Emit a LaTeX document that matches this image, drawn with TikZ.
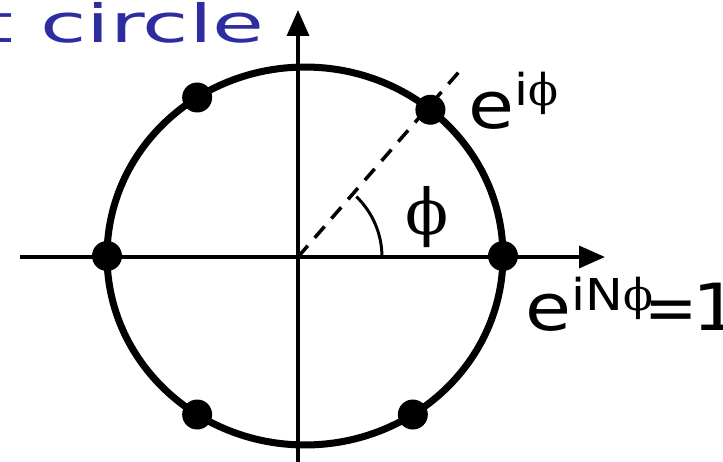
\documentclass[tikz,border=0pt]{standalone}
\usepackage{fontspec}
\usepackage{graphicx}
\usepackage{xcolor}
\usepackage{tikz}
\usetikzlibrary{arrows.meta,positioning,calc}
\newfontfamily\labelfont[FakeStretch=1.15]{DejaVu Sans}
\newfontfamily\titlefont[FakeStretch=1.6]{DejaVu Sans}
\newfontfamily\phifont{DejaVu Serif}
\definecolor{titleblue}{RGB}{45,45,160}

\begin{document}
\begin{tikzpicture}[
x=0.02cm, y=0.02cm,
axis/.style={line width=2pt, -{Triangle[length=5.2mm, width=4.4mm]}},
ring/.style={line width=4pt},
root/.style={circle, fill, inner sep=0pt, minimum size=6mm},
lbl/.style={inner sep=0pt, anchor=base west, font=\labelfont\fontsize{37}{40}\selectfont}
]
\useasboundingbox (0,0) rectangle (723,461);
\coordinate (O) at (298,204);
\coordinate (C) at (305,205);
\coordinate (xl) at (20,204);
\coordinate (xr) at (605,204);
\coordinate (yb) at (298,-10);
\coordinate (yt) at (298,451);

\draw[axis] (xl) -- (xr);
\draw[axis] (yb) -- (yt);
\draw[ring] (C) ellipse [x radius=3.96cm, y radius=3.78cm];

% roots on the circle
\foreach \t [count=\k] in {0,50.7,123,180,237,303}
  \node[root] (r\k) at ($(C)+({198*cos(\t)},{189*sin(\t)})$) {};

\coordinate (ray) at ($(O)+(49:4.9cm)$);
\draw[line width=2pt, dash pattern=on 8.5pt off 6pt] (O) -- (ray);
\draw[line width=1.7pt] ([shift={(0:1.68cm)}]O) arc[start angle=0, end angle=46, radius=1.68cm];

\node[lbl] (eiphi) at (468,333) {e\raisebox{13pt}{\fontsize{25}{30}\selectfont i{\phifont ϕ}}};
\node[lbl] (eiN) at (525,131) {e\raisebox{11pt}{\fontsize{25}{30}\selectfont iN{\phifont ϕ}}\kern-5pt\scalebox{0.85}[1]{=}\kern-3pt1};
\node[inner sep=0pt, font=\phifont\fontsize{36}{40}\selectfont] (phi) at (427,244) {ϕ};
\node[inner sep=0pt, anchor=base east, text=titleblue, font=\titlefont\fontsize{30}{34}\selectfont] (title) at (265,419) {t circle};
\end{tikzpicture}
\end{document}
